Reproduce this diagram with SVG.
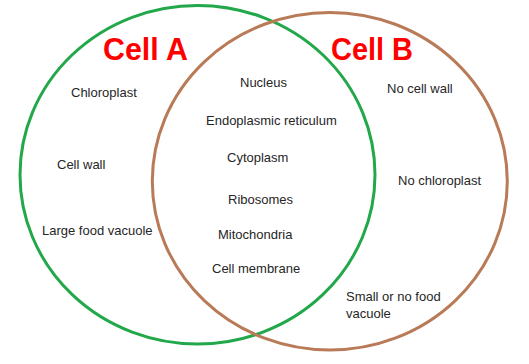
<svg xmlns="http://www.w3.org/2000/svg" width="529" height="364" viewBox="0 0 529 364">
  <style>
    .lbl { font-family: "Liberation Sans", Arial, sans-serif; font-size: 13px; fill: #262626; }
    .title { font-family: "Liberation Sans", Arial, sans-serif; font-size: 31px; font-weight: bold; fill: #ff0000; }
    .ring { fill: none; stroke-width: 3; }
  </style>
  <rect width="529" height="364" fill="#ffffff"/>
  <g id="cellA">
    <ellipse class="ring" cx="197.5" cy="174.7" rx="177.5" ry="169.3" stroke="#22a84a"/>
    <text class="title" x="103" y="60" textLength="85" lengthAdjust="spacingAndGlyphs">Cell A</text>
    <text class="lbl" x="71" y="97">Chloroplast</text>
    <text class="lbl" x="57" y="169">Cell wall</text>
    <text class="lbl" x="42" y="235">Large food vacuole</text>
  </g>
  <g id="cellB">
    <ellipse class="ring" cx="329.8" cy="181.2" rx="177.5" ry="168.8" stroke="#b97a57"/>
    <text class="title" x="331" y="60" textLength="82" lengthAdjust="spacingAndGlyphs">Cell B</text>
    <text class="lbl" x="387" y="93">No cell wall</text>
    <text class="lbl" x="398" y="185">No chloroplast</text>
    <text class="lbl" x="346" y="301">Small or no food</text>
    <text class="lbl" x="346" y="318">vacuole</text>
  </g>
  <g id="shared">
    <text class="lbl" x="240" y="87">Nucleus</text>
    <text class="lbl" x="206" y="125">Endoplasmic reticulum</text>
    <text class="lbl" x="227" y="162">Cytoplasm</text>
    <text class="lbl" x="228" y="204">Ribosomes</text>
    <text class="lbl" x="218" y="239">Mitochondria</text>
    <text class="lbl" x="212" y="273">Cell membrane</text>
  </g>
  <g id="connectors"></g>
</svg>
